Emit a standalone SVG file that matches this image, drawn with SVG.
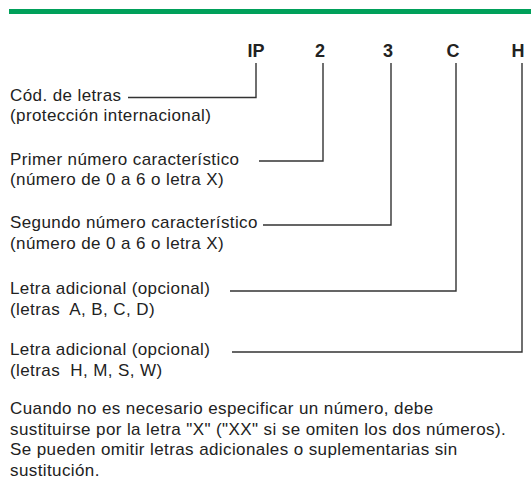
<svg xmlns="http://www.w3.org/2000/svg" width="531" height="484" viewBox="0 0 531 484">
<style>
.t{font-family:"Liberation Sans",Arial,sans-serif;font-size:17px;letter-spacing:0.4px;fill:#222;white-space:pre}
.b{font-family:"Liberation Sans",Arial,sans-serif;font-size:18px;font-weight:bold;fill:#222;text-anchor:middle}
.c{fill:none;stroke:#333;stroke-width:1.4}
</style>
<rect x="9" y="9" width="522" height="5" fill="#00a05a"/>
<g id="codes">
<text class="b" x="256" y="57">IP</text>
<text class="b" x="320" y="57">2</text>
<text class="b" x="388" y="57">3</text>
<text class="b" x="453" y="57">C</text>
<text class="b" x="518" y="57">H</text>
</g>
<g id="n1"><text class="t" x="10" y="100.5">Cód. de letras</text><text class="t" x="10" y="121">(protección internacional)</text></g>
<g id="n2"><text class="t" x="10" y="164.5">Primer número característico</text><text class="t" x="10" y="185">(número de 0 a 6 o letra X)</text></g>
<g id="n3"><text class="t" x="10" y="228">Segundo número característico</text><text class="t" x="10" y="248.5">(número de 0 a 6 o letra X)</text></g>
<g id="n4"><text class="t" x="10" y="294">Letra adicional (opcional)</text><text class="t" x="10" y="314.5" xml:space="preserve">(letras  A, B, C, D)</text></g>
<g id="n5"><text class="t" x="10" y="355">Letra adicional (opcional)</text><text class="t" x="10" y="375.5" xml:space="preserve">(letras  H, M, S, W)</text></g>
<g id="note">
<text class="t" x="10" y="413.5">Cuando no es necesario especificar un número, debe</text>
<text class="t" x="10" y="434.5">sustituirse por la letra "X" ("XX" si se omiten los dos números).</text>
<text class="t" x="10" y="455">Se pueden omitir letras adicionales o suplementarias sin</text>
<text class="t" x="10" y="476">sustitución.</text>
</g>
<g id="connectors">
<polyline class="c" points="128,97.5 256,97.5 256,63"/>
<polyline class="c" points="259,161 323,161 323,63"/>
<polyline class="c" points="263,225 391,225 391,63"/>
<polyline class="c" points="230,291 456,291 456,63"/>
<polyline class="c" points="232,352 522,352 522,63"/>
</g>
</svg>
